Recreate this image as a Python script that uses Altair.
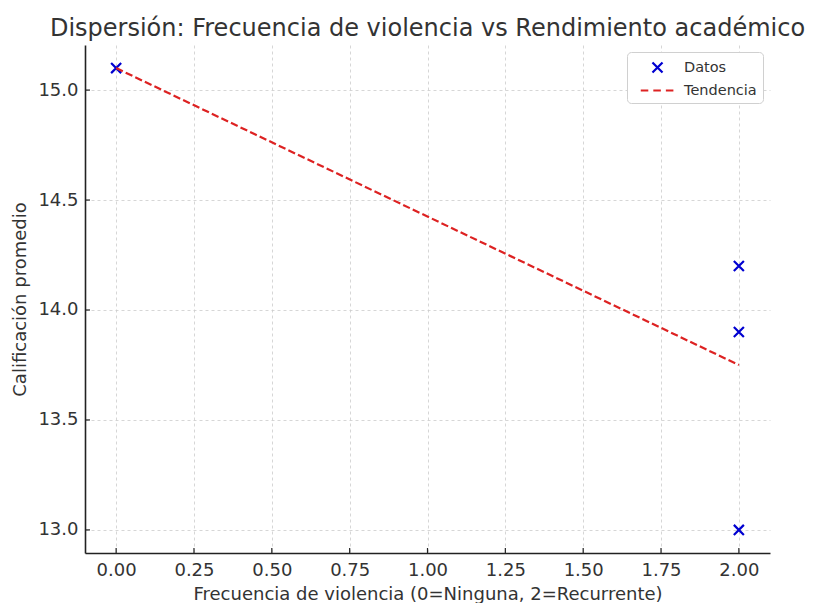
import altair as alt
import pandas as pd

# data
x_vals = [0, 2, 2, 2]
y_vals = [15.1, 14.2, 13.9, 13.0]
trend_x = [0, 2]
trend_y = [15.1, 13.75]
x_ticks = [0.0, 0.25, 0.5, 0.75, 1.0, 1.25, 1.5, 1.75, 2.0]
y_ticks = [13.0, 13.5, 14.0, 14.5, 15.0]
series = ["Datos", "Tendencia"]

FONT = "DejaVu Sans"
TXT = "#333333"
BLUE = "#0000d0"
RED = "#dd2222"

X_PATH = "M-0.6,-0.6L0.6,0.6M-0.6,0.6L0.6,-0.6"
DASH_PATH = "M-2,0L-1.1,0M-0.5,0L0.4,0M1,0L1.9,0"
SYM = 280

pts = pd.DataFrame({"x": x_vals, "y": y_vals, "serie": series[0]})
trend = pd.DataFrame({"x": trend_x, "y": trend_y, "serie": series[1]})
xt = pd.DataFrame({"v": x_ticks})
yt = pd.DataFrame({"v": y_ticks})

xscale = alt.Scale(domain=[-0.1, 2.1], nice=False, zero=False)
yscale = alt.Scale(domain=[12.895, 15.205], nice=False, zero=False)

xaxis = alt.Axis(values=x_ticks, format=".2f", title="Frecuencia de violencia (0=Ninguna, 2=Recurrente)",
                 grid=True, gridDash=[3, 3], gridColor="#cccccc", gridWidth=0.8,
                 ticks=False, tickSize=0, labelPadding=8, titlePadding=6,
                 domainColor="#222222", domainWidth=1.6,
                 labelFont=FONT, labelFontSize=18, labelColor=TXT,
                 titleFont=FONT, titleFontSize=18, titleColor=TXT, titleFontWeight="normal")
yaxis = alt.Axis(values=y_ticks, format=".1f", title="Calificación promedio",
                 grid=True, gridDash=[3, 3], gridColor="#cccccc", gridWidth=0.8,
                 ticks=False, tickSize=0, labelPadding=7, titlePadding=8,
                 domainColor="#222222", domainWidth=1.6,
                 labelFont=FONT, labelFontSize=18, labelColor=TXT,
                 titleFont=FONT, titleFontSize=18, titleColor=TXT, titleFontWeight="normal")

legend = alt.Legend(title=None, orient="top-right", offset=7,
                    labelFont=FONT, labelFontSize=14.5, labelColor=TXT,
                    symbolSize=SYM, symbolStrokeWidth=2.2, symbolOffset=15,
                    fillColor="white", strokeColor="#d0d0d0", cornerRadius=4,
                    padding=6, rowPadding=4, labelOffset=17)
color = alt.Color("serie:N", scale=alt.Scale(domain=series, range=[BLUE, RED]), legend=legend)

line = alt.Chart(trend).mark_line(strokeDash=[7.4, 3.2], strokeWidth=2.2).encode(
    x=alt.X("x:Q", scale=xscale, axis=xaxis),
    y=alt.Y("y:Q", scale=yscale, axis=yaxis),
    color=color,
)

points = alt.Chart(pts).mark_point(filled=False, strokeWidth=2.2, size=SYM, opacity=1).encode(
    x=alt.X("x:Q", scale=xscale),
    y=alt.Y("y:Q", scale=yscale),
    color=color,
    shape=alt.Shape("serie:N", scale=alt.Scale(domain=series, range=[X_PATH, DASH_PATH]),
                    legend=legend),
)

yticks_l = alt.Chart(yt).mark_rule(color="#222222", strokeWidth=1.2).encode(
    y=alt.Y("v:Q", scale=yscale), x=alt.value(0), x2=alt.value(5))
xticks_l = alt.Chart(xt).mark_rule(color="#222222", strokeWidth=1.2).encode(
    x=alt.X("v:Q", scale=xscale), y=alt.value(508), y2=alt.value(503))

chart = alt.layer(yticks_l, xticks_l, points, line).properties(
    width=685, height=508,
    title=alt.TitleParams("Dispersión: Frecuencia de violencia vs Rendimiento académico",
                          font=FONT, fontSize=24, fontWeight="normal", color=TXT,
                          anchor="middle", offset=4),
    autosize=alt.AutoSizeParams(type="none"),
    padding={"left": 77, "top": 37, "right": 39, "bottom": 50},
).configure_view(stroke=None).configure_legend(symbolFillColor="transparent")

chart.save("out.html", embed_options={"renderer": "svg", "actions": False})
